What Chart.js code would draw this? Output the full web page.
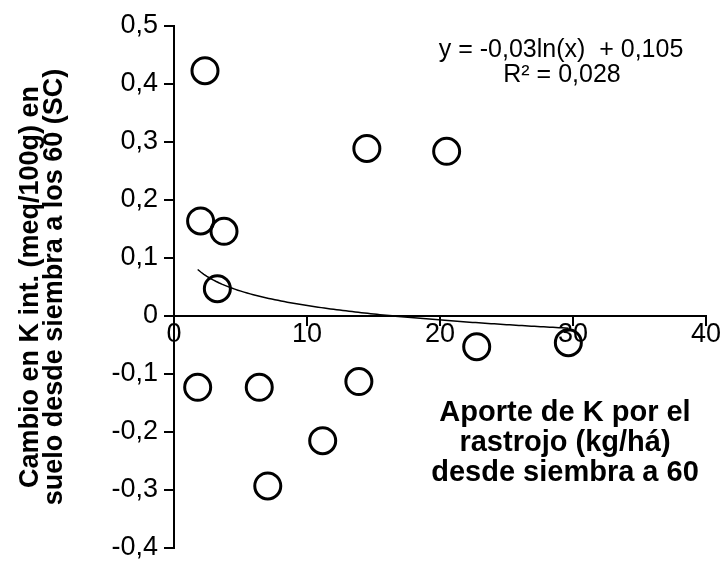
<!DOCTYPE html>
<html lang="es">
<head>
<meta charset="UTF-8">
<title>Cambio en K int. vs aporte de K por el rastrojo</title>
<script src="https://cdn.jsdelivr.net/npm/chart.js"></script>
<style>
    html, body { margin: 0; padding: 0; background: #fff; }
    #wrap { width: 727px; height: 564px; }
</style>
</head>
<body>
<div id="wrap"><canvas id="chart" width="727" height="564"></canvas></div>
<script>
// Aporte de K por el rastrojo (kg/há)
const aporteK = [2.33, 2.0, 3.76, 3.26, 14.5, 20.5, 1.78, 6.41, 13.9, 11.18, 7.05, 22.76, 29.65];
// Cambio en K int. (meq/100g)
const cambioK = [0.423, 0.164, 0.146, 0.047, 0.289, 0.284, -0.123, -0.123, -0.113, -0.215, -0.293, -0.053, -0.046];

const trendA = -0.036;
const trendB = 0.101;
const trendEq = 'y = -0,03ln(x)  + 0,105';
const trendR2 = 'R\u00b2 = 0,028';

const xTicks = [0, 10, 20, 30, 40];
const yTicks = [-0.4, -0.3, -0.2, -0.1, 0, 0.1, 0.2, 0.3, 0.4, 0.5];

const yTitle = ['Cambio en K int. (meq/100g) en', 'suelo desde siembra a los 60 (SC)'];
const xTitle = ['Aporte de K por el', 'rastrojo (kg/h\u00e1)', 'desde siembra a 60'];

var points = aporteK.map(function (x, i) { return { x: x, y: cambioK[i] }; });

// curva de tendencia entre el menor y el mayor aporte
var xMin = Math.min.apply(null, aporteK);
var xMax = Math.max.apply(null, aporteK);
var trend = [];
for (var k = 0; k <= 120; k++) {
    var xv = xMin + (xMax - xMin) * k / 120;
    trend.push({ x: xv, y: trendA * Math.log(xv) + trendB });
}

function fmt(v) {
    var r = Math.round(v * 10) / 10;
    return r === 0 ? '0' : String(r).replace('.', ',');
}

// textos dentro del area del grafico
const textPlugin = {
    id: 'textos',
    afterDraw: function (chart) {
        var ctx = chart.ctx;
        ctx.save();
        ctx.fillStyle = '#000';
        ctx.textAlign = 'center';
        ctx.textBaseline = 'middle';
        ctx.font = '25px "Liberation Sans", Arial, sans-serif';
        ctx.fillText(trendEq, 561, 50);
        ctx.fillText(trendR2, 562, 75);
        ctx.font = 'bold 29px "Liberation Sans", Arial, sans-serif';
        xTitle.forEach(function (t, i) {
            ctx.fillText(t, 565, 413 + i * 30);
        });
        ctx.restore();
    }
};

var ctx = document.getElementById('chart').getContext('2d');
var chart = new Chart(ctx, {
    type: 'scatter',
    data: {
        datasets: [{
            label: 'tendencia',
            data: trend,
            showLine: true,
            borderColor: '#000',
            borderWidth: 1.5,
            pointRadius: 0,
            fill: false
        }, {
            label: 'datos',
            data: points,
            pointStyle: 'circle',
            pointRadius: 13,
            pointBorderWidth: 3,
            pointBorderColor: '#000',
            pointBackgroundColor: 'rgba(0,0,0,0)'
        }]
    },
    options: {
        responsive: false,
        animation: false,
        layout: { padding: { top: 26, right: 21, bottom: 10, left: 0 } },
        plugins: {
            legend: { display: false },
            tooltip: { enabled: false }
        },
        scales: {
            x: {
                type: 'linear',
                min: 0,
                max: 40,
                position: { y: 0 },
                afterBuildTicks: function (s) { s.ticks = xTicks.map(function (v) { return { value: v }; }); },
                ticks: {
                    color: '#000',
                    font: { family: '"Liberation Sans", Arial, sans-serif', size: 27 },
                    padding: -7,
                    maxRotation: 0,
                    callback: function (v) { return String(v); }
                },
                grid: { drawOnChartArea: false, drawTicks: true, tickLength: 9, color: '#000', lineWidth: 2 },
                border: { display: true, color: '#000', width: 2 }
            },
            y: {
                min: -0.4,
                max: 0.5,
                afterBuildTicks: function (s) { s.ticks = yTicks.map(function (v) { return { value: v }; }); },
                afterFit: function (s) {
                    s.width = 174;
                    s.paddingTop = 0;
                    s.paddingBottom = 0;
                },
                ticks: {
                    color: '#000',
                    font: { family: '"Liberation Sans", Arial, sans-serif', size: 27 },
                    padding: 6,
                    callback: function (v) { return fmt(v); }
                },
                grid: { drawOnChartArea: false, drawTicks: true, tickLength: 10, color: '#000', lineWidth: 2 },
                border: { display: true, color: '#000', width: 2 },
                title: {
                    display: true,
                    text: yTitle,
                    color: '#000',
                    font: { family: '"Liberation Sans", Arial, sans-serif', size: 27, weight: 'bold', lineHeight: 0.88 },
                    padding: { top: 19, bottom: 0 }
                }
            }
        }
    },
    plugins: [textPlugin]
});
</script>
</body>
</html>
